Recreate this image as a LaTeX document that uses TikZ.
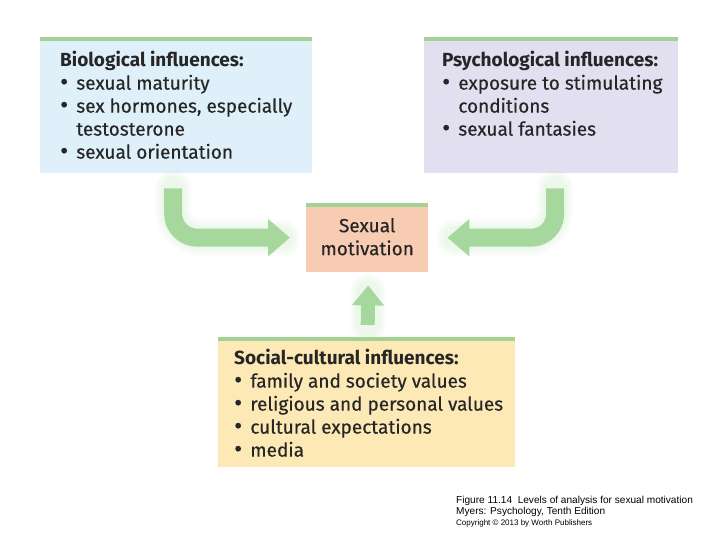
\documentclass[tikz,border=0pt]{standalone}
\usepackage{fontspec}
\setmainfont{Fira Sans}[UprightFeatures={FakeBold=0.4}]
\newfontfamily\capfont{Liberation Sans}
\usetikzlibrary{arrows.meta,positioning}

\definecolor{bioblue}{HTML}{E0F0FA}
\definecolor{psylilac}{HTML}{E2DFF0}
\definecolor{motpeach}{HTML}{F8CCB3}
\definecolor{socyellow}{HTML}{FDE9B6}
\definecolor{bargreen}{HTML}{A3D394}
\definecolor{flowgreen}{HTML}{A6D89E}

\newcommand{\bul}{\makebox[0.85em][l]{\raisebox{-0.05ex}{\scalebox{1.3}{\textbullet}}}}

\begin{document}
\begin{tikzpicture}[
    x=1pt, y=-1pt,
    panel/.style={rectangle, draw=none, inner sep=0pt, anchor=north west},
    topbar/.style={line width=4pt, bargreen},
    panetext/.style={anchor=north west, align=left, inner sep=0pt, font=\fontsize{19}{23}\selectfont, text=black!85},
    flow/.style={line width=18pt, flowgreen, rounded corners=24pt, -{Triangle[length=22pt,width=36pt]}},
    glow/.style={line width=32pt, flowgreen, opacity=0.07, rounded corners=28pt, line cap=round},
    capline/.style={anchor=north west, inner sep=0pt, font=\capfont\fontsize{10.1}{11.5}\selectfont}
]
\useasboundingbox (0,0) rectangle (720,540);

% Panels
\node[panel, fill=bioblue, minimum width=272pt, minimum height=136pt] (bio) at (40,37) {};
\node[panel, fill=psylilac, minimum width=254pt, minimum height=136pt] (psych) at (424,37) {};
\node[panel, fill=motpeach, minimum width=122pt, minimum height=69pt] (motiv) at (306,203) {};
\node[panel, fill=socyellow, minimum width=297pt, minimum height=130pt] (social) at (218,337) {};

\foreach \p in {bio, psych, motiv, social} {
    \draw[topbar] ([yshift=-2pt]\p.north west) -- ([yshift=-2pt]\p.north east);
}

% Panel texts
\node[panetext] (bio-text) at ([xshift=20pt, yshift=-14pt]bio.north west) {
    \textbf{Biological influences:}\\
    \bul sexual maturity\\
    \bul sex hormones, especially\\
    \phantom{\bul}testosterone\\
    \bul sexual orientation
};
\node[panetext] (psych-text) at ([xshift=18pt, yshift=-14pt]psych.north west) {
    \textbf{Psychological influences:}\\
    \bul exposure to stimulating\\
    \phantom{\bul}conditions\\
    \bul sexual fantasies
};
\node[panetext, anchor=center, align=center] (motiv-text) at ([yshift=1pt]motiv.center) {
    Sexual\\motivation
};
\node[panetext] (social-text) at ([xshift=16pt, yshift=-12pt]social.north west) {
    \textbf{Social-cultural influences:}\\
    \bul family and society values\\
    \bul religious and personal values\\
    \bul cultural expectations\\
    \bul media
};

% Soft glow under the arrows
\foreach \w in {24,30,36} {
    \draw[glow, line width=\w pt] ([xshift=-3pt, yshift=-15pt]bio.south) |- ([xshift=-24pt]motiv.west);
    \draw[glow, line width=\w pt] ([xshift=4pt, yshift=-15pt]psych.south) |- ([xshift=26pt]motiv.east);
    \draw[glow, line width=\w pt] ([xshift=1pt, yshift=12pt]social.north) -- ([xshift=1pt, yshift=-20pt]motiv.south);
}

% Arrows into the centre
\draw[flow] ([xshift=-3pt, yshift=-15pt]bio.south) |- ([xshift=-16pt]motiv.west);
\draw[flow] ([xshift=4pt, yshift=-15pt]psych.south) |- ([xshift=19pt]motiv.east);
\draw[flow, line width=14pt, -{Triangle[length=20pt,width=31pt]}] ([xshift=1pt, yshift=12pt]social.north) -- ([xshift=1pt, yshift=-13pt]motiv.south);

% Caption
\node[capline] (cap-fig) at (456,496) {Figure 11.14\ \ Levels of analysis for sexual motivation};
\node[capline, below=1.5pt of cap-fig.south west, anchor=north west] (cap-book) {Myers: Psychology, Tenth Edition};
\node[capline, font=\capfont\fontsize{8}{9}\selectfont, below=2pt of cap-book.south west, anchor=north west] (cap-copy) {Copyright \textcopyright\ 2013 by Worth Publishers};
\end{tikzpicture}
\end{document}
